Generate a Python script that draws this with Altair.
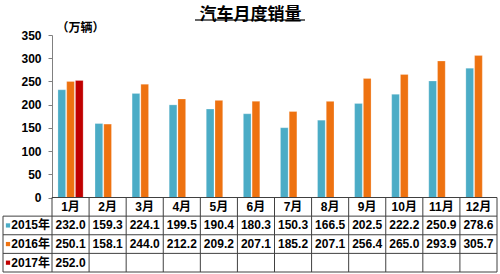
import altair as alt
import pandas as pd

months = ["1月", "2月", "3月", "4月", "5月", "6月", "7月", "8月", "9月", "10月", "11月", "12月"]
series = ["2015年", "2016年", "2017年"]
colors = ["#4BACC6", "#EE7210", "#C00000"]
v2015 = [232.0, 159.3, 224.1, 199.5, 190.4, 180.3, 150.3, 166.5, 202.5, 222.2, 250.9, 278.6]
v2016 = [250.1, 158.1, 244.0, 212.2, 209.2, 207.1, 185.2, 207.1, 256.4, 265.0, 293.9, 305.7]
v2017 = [252.0]
y_ticks = [0, 50, 100, 150, 200, 250, 300, 350]
title_text = "汽车月度销量"
unit_text = "（万辆）"
rows = ["header"] + series

FONT = "Liberation Sans, Noto Sans CJK SC"
W = 445
H = 237
BAR_H = 162.5
LEFT = -49
LINE = "#404040"

records = []
for s, vals in zip(series, [v2015, v2016, v2017]):
    for m, v in zip(months, vals):
        records.append({"month": m, "series": s, "row": s, "value": v, "label": f"{v:.1f}"})
df = pd.DataFrame(records)
mdf = pd.DataFrame({"month": months, "row": ["header"] * len(months)})
sdf = pd.DataFrame({"series": series, "row": series})
hdf = pd.DataFrame({"row": series})

xscale = alt.Scale(domain=months, paddingInner=0, paddingOuter=0)
X = alt.X("month:N", scale=xscale, sort=months, axis=None)
rowscale = alt.Scale(domain=rows, range=[BAR_H, H], paddingInner=0, paddingOuter=0)
Yrow = alt.Y("row:N", scale=rowscale, sort=rows, axis=None)
color = alt.Color("series:N", scale=alt.Scale(domain=series, range=colors), legend=None)

bars = alt.Chart(df).mark_bar(stroke="#ffffff", strokeOpacity=0.4, strokeWidth=0.6).encode(
    x=X,
    xOffset=alt.XOffset("series:N", scale=alt.Scale(domain=series, paddingInner=0.12, paddingOuter=0.68)),
    y=alt.Y("value:Q",
            scale=alt.Scale(domain=[0, 350], range=[BAR_H, 0], nice=False, zero=True),
            axis=alt.Axis(values=y_ticks, title=unit_text, titleAngle=0, titleX=4, titleY=-8,
                          titleAlign="left", titleBaseline="middle", titleFont=FONT,
                          titleFontSize=12, titleFontWeight="bold", titleColor="#000000",
                          labelFont=FONT, labelFontSize=12, labelFontWeight="bold",
                          labelColor="#000000", labelPadding=7, tickSize=4,
                          tickColor="#808080", domainColor="#808080", grid=False)),
    color=color,
)

# table text
header_text = alt.Chart(mdf).mark_text(font=FONT, fontSize=12, fontWeight="bold", color="#000000",
                                        baseline="middle").encode(x=X, y=Yrow, text="month:N")
value_text = alt.Chart(df).mark_text(font=FONT, fontSize=12, fontWeight="bold", color="#000000",
                                      baseline="middle").encode(x=X, y=Yrow, text="label:N")
row_labels = alt.Chart(sdf).mark_text(font=FONT, fontSize=12, fontWeight="bold", color="#000000",
                                       align="right", baseline="middle").encode(
    x=alt.value(-2), y=Yrow, text="series:N")
swatches = alt.Chart(sdf).mark_square(size=18, opacity=1).encode(
    x=alt.value(-44), y=Yrow, color=color)

# table grid
h_header = alt.Chart(mdf.head(1)).mark_rule(color=LINE, strokeWidth=1).encode(
    x=alt.value(0), x2=alt.value(W), y=alt.Y("row:N", scale=rowscale, sort=rows, axis=None, bandPosition=0))
h_rows = alt.Chart(hdf).mark_rule(color=LINE, strokeWidth=1).encode(
    x=alt.value(LEFT), x2=alt.value(W), y=alt.Y("row:N", scale=rowscale, sort=rows, axis=None, bandPosition=0))
h_bottom = alt.Chart(hdf.tail(1)).mark_rule(color=LINE, strokeWidth=1).encode(
    x=alt.value(LEFT), x2=alt.value(W), y=alt.Y("row:N", scale=rowscale, sort=rows, axis=None, bandPosition=1))
v_cols = alt.Chart(mdf).mark_rule(color=LINE, strokeWidth=1).encode(
    x=alt.X("month:N", scale=xscale, sort=months, axis=None, bandPosition=0),
    y=alt.value(BAR_H), y2=alt.value(H))
v_right = alt.Chart(mdf.tail(1)).mark_rule(color=LINE, strokeWidth=1).encode(
    x=alt.X("month:N", scale=xscale, sort=months, axis=None, bandPosition=1),
    y=alt.value(BAR_H), y2=alt.value(H))
v_left = alt.Chart(hdf.head(1)).mark_rule(color=LINE, strokeWidth=1).encode(
    x=alt.value(LEFT), y=alt.Y("row:N", scale=rowscale, sort=rows, axis=None, bandPosition=0),
    y2=alt.value(H))

underline = alt.Chart(mdf.head(1)).mark_rule(color="#333333", strokeWidth=1.5).encode(
    x=alt.value(143), x2=alt.value(253), y=alt.value(-15))

chart = alt.layer(
    bars, v_cols, v_right, v_left, h_header, h_rows, h_bottom,
    header_text, value_text, row_labels, swatches, underline,
).resolve_scale(y="independent").properties(
    width=W,
    height=H,
    padding={"left": 52, "top": 35, "right": 3, "bottom": 2},
    autosize=alt.AutoSizeParams(type="none"),
    title=alt.TitleParams(title_text, font="Noto Sans CJK SC", fontSize=17, fontWeight="bold",
                          color="#000000", anchor="middle", dx=-24, dy=9, offset=4),
).configure_view(stroke=None)

chart.save("out.html", embed_options={"renderer": "svg", "actions": False})
